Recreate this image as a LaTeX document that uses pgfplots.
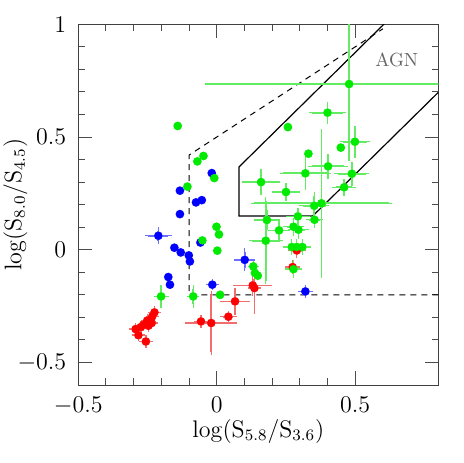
\documentclass[border=0pt]{standalone}
\usepackage{pgfplots}
\usepackage{pgfplotstable}
\pgfplotsset{compat=1.18}
\definecolor{ptred}{RGB}{255,0,0}
\definecolor{ptblue}{RGB}{0,0,255}
\definecolor{ptgreen}{RGB}{0,235,0}
\definecolor{errred}{RGB}{240,110,110}
\definecolor{errblue}{RGB}{110,110,255}
\definecolor{errgreen}{RGB}{100,235,100}

% x y ex ey
\pgfplotstableread{
x y ex ey
-0.225 -0.278 0.012 0.012
-0.233 -0.296 0.012 0.012
-0.251 -0.314 0.012 0.012
-0.235 -0.325 0.012 0.012
-0.247 -0.337 0.012 0.012
-0.265 -0.333 0.012 0.012
-0.274 -0.343 0.012 0.012
-0.293 -0.352 0.012 0.012
-0.283 -0.379 0.012 0.012
-0.256 -0.407 0.012 0.012
-0.244 -0.321 0.012 0.012
-0.057 -0.318 0.012 0.012
-0.020 -0.325 0.081 0.128
0.042 -0.297 0.018 0.010
0.066 -0.229 0.042 0.044
0.130 -0.158 0.058 0.030
0.136 -0.170 0.010 0.100
0.274 -0.077 0.015 0.015
0.289 -0.003 0.020 0.020
}\redtab

\pgfplotstableread{
x y ex ey
-0.211 0.062 0.036 0.023
-0.153 0.009 0 0
-0.130 -0.012 0 0
-0.101 -0.025 0 0
-0.097 -0.052 0 0
-0.175 -0.121 0 0
-0.169 -0.155 0 0
-0.133 0.262 0 0
-0.133 0.158 0 0
-0.075 0.210 0 0
-0.054 0.220 0 0
-0.059 0.032 0 0
-0.018 0.340 0 0
-0.016 -0.155 0.012 0.010
0.101 -0.045 0.025 0.036
0.320 -0.185 0.015 0.012
}\bluetab

\pgfplotstableread{
x y ex ey
-0.141 0.549 0 0
-0.048 0.416 0 0
-0.070 0.392 0 0
-0.009 0.318 0 0
-0.106 0.280 0 0
-0.001 0.102 0 0
0.008 0.068 0 0
-0.052 0.041 0 0
0.002 -0.004 0 0
0.012 -0.200 0 0
-0.085 -0.207 0.010 0.035
-0.201 -0.207 0.015 0.035
0.132 -0.074 0.008 0.010
0.138 -0.103 0 0
0.148 -0.115 0 0
0.160 0.300 0.056 0.044
0.177 0.040 0.050 0.178
0.181 0.132 0.035 0.030
0.225 0.086 0.027 0.030
0.250 0.256 0.038 0.024
0.257 0.544 0 0
0.277 0.102 0.025 0.025
0.293 0.148 0.030 0.022
0.295 0.089 0.025 0.025
0.271 0.012 0.020 0.020
0.289 0.012 0.020 0.020
0.309 0.012 0.020 0.020
0.277 -0.086 0.020 0.025
0.320 0.339 0.080 0.059
0.331 0.426 0 0
0.352 0.195 0.041 0.044
0.353 0.133 0.020 0.020
0.378 0.206 0.243 0.315
0.400 0.608 0.056 0.034
0.402 0.370 0.059 0.040
0.448 0.453 0 0
0.460 0.277 0.030 0.023
0.478 0.735 0.508 0.325
0.488 0.337 0.051 0.038
0.499 0.479 0.042 0.055
}\greentab

\pgfplotsset{
  errs/.style={#1, only marks, mark=none,
    error bars/.cd, x dir=both, x explicit, y dir=both, y explicit,
    error bar style={#1, line width=0.85pt},
    error mark options={#1, mark size=1.7pt, line width=0.7pt}},
  pts/.style={only marks, mark=*, mark size=1.85pt, draw=#1, fill=#1},
}

\begin{document}
\begin{tikzpicture}
\path[use as bounding box] (-39.15pt,-39pt) rectangle ++(231.5pt,231.5pt);
\begin{axis}[
  at={(0,0)}, anchor=south west,
  scale only axis, width=180pt, height=180.35pt,
  xmin=-0.5, xmax=0.8, ymin=-0.6, ymax=1,
  xtick={-0.5,0,0.5}, ytick={-0.5,0,0.5,1},
  minor x tick num=4, minor y tick num=4,
  major tick length=6.8pt, minor tick length=3.3pt,
  tick style={black!70, line width=0.5pt},
  axis line style={black!75, line width=0.5pt},
  tick label style={font=\fontsize{12}{14}\selectfont},
  yticklabel style={xshift=-2.5pt},
  xticklabel style={yshift=-2.5pt},
  label style={font=\fontsize{12}{14}\selectfont},
  xlabel={$\log(\mathrm{S}_{5.8}/\mathrm{S}_{3.6})$},
  ylabel={$\log(\mathrm{S}_{8.0}/\mathrm{S}_{4.5})$},
  xlabel style={at={(axis description cs:0.5,-0.128)}, anchor=center},
  ylabel style={at={(axis description cs:-0.175,0.5)}, anchor=center},
]
% selection boundaries
\addplot[black, line width=0.6pt] coordinates {
  (0.62,1.0202) (0.08,0.3668) (0.08,0.15) (0.347,0.15) (0.82,0.7222)};
\addplot[black, line width=0.5pt, dash pattern=on 3pt off 2.5pt] coordinates {
  (0.8,-0.2) (-0.1,-0.2) (-0.1,0.42) (0.6,0.98)};

\addplot[errs=errred] table[x=x, y=y, x error=ex, y error=ey] {\redtab};
\addplot[errs=errblue] table[x=x, y=y, x error=ex, y error=ey] {\bluetab};
\addplot[errs=errgreen] table[x=x, y=y, x error=ex, y error=ey] {\greentab};

\addplot[pts=ptred] table[x=x, y=y] {\redtab};
\addplot[pts=ptblue] table[x=x, y=y] {\bluetab};
\addplot[pts=ptgreen] table[x=x, y=y] {\greentab};

\node[black!60, font=\fontsize{9.5}{11}\selectfont] at (axis cs:0.65,0.843) {AGN};
\end{axis}
\end{tikzpicture}
\end{document}
